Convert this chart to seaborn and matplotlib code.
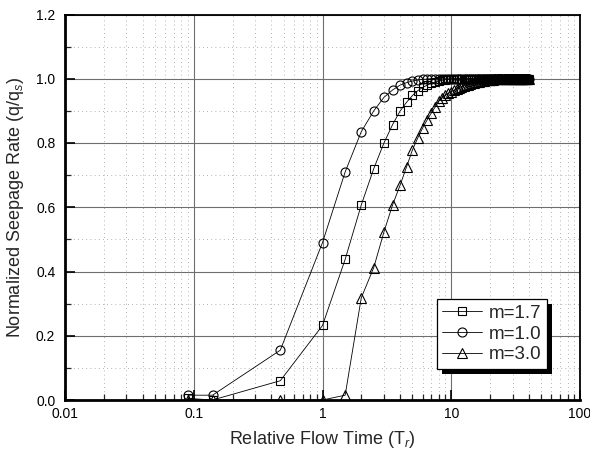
import numpy as np
import pandas as pd
import matplotlib
matplotlib.use("Agg")
import matplotlib.pyplot as plt
import seaborn as sns
from matplotlib.patches import Rectangle
from matplotlib.transforms import IdentityTransform
from matplotlib.ticker import LogLocator, NullFormatter, MultipleLocator

# ---- data ----
time_vals = [0.09, 0.14, 0.47, 1.0, 1.5, 2.0, 2.5, 3.0, 3.5, 4.0, 4.5, 5.0, 5.5,
             6.0, 6.5, 7.0, 7.5, 8.0, 8.5, 9.0, 9.5, 10.0,
             10.5, 11, 11.5, 12, 12.5, 13, 13.5, 14, 14.5, 15, 15.5, 16, 16.5, 17, 17.5,
             18, 18.5, 19, 19.5, 20, 20.5, 21, 21.5, 22, 22.5, 23, 23.5, 24, 24.5, 25,
             25.5, 26, 26.5, 27, 27.5, 28, 28.5, 29, 29.5, 30, 30.5, 31, 31.5, 32, 32.5,
             33, 33.5, 34, 34.5, 35, 35.5, 36, 36.5, 37, 37.5, 38, 38.5, 39, 39.5, 40]

rate_m17 = [0.005, 0.0, 0.06, 0.232, 0.438, 0.607, 0.72, 0.80, 0.857, 0.899, 0.927,
            0.948, 0.963, 0.973, 0.980, 0.986, 0.990, 0.993, 0.995, 0.997, 0.998, 0.999,
            0.999, 1.0, 1.0, 1.0, 1.0, 1.0, 1.0, 1.0, 1.0, 1.0, 1.0, 1.0, 1.0, 1.0, 1.0,
            1.0, 1.0, 1.0, 1.0, 1.0, 1.0, 1.0, 1.0, 1.0, 1.0, 1.0, 1.0, 1.0, 1.0, 1.0,
            1.0, 1.0, 1.0, 1.0, 1.0, 1.0, 1.0, 1.0, 1.0, 1.0, 1.0, 1.0, 1.0, 1.0, 1.0,
            1.0, 1.0, 1.0, 1.0, 1.0, 1.0, 1.0, 1.0, 1.0, 1.0, 1.0, 1.0, 1.0, 1.0, 1.0]

rate_m10 = [0.015, 0.015, 0.155, 0.49, 0.71, 0.835, 0.90, 0.942, 0.965, 0.980, 0.988,
            0.993, 0.996, 0.998, 0.999, 1.0, 1.0, 1.0, 1.0, 1.0, 1.0, 1.0,
            1.0, 1.0, 1.0, 1.0, 1.0, 1.0, 1.0, 1.0, 1.0, 1.0, 1.0, 1.0, 1.0, 1.0, 1.0,
            1.0, 1.0, 1.0, 1.0, 1.0, 1.0, 1.0, 1.0, 1.0, 1.0, 1.0, 1.0, 1.0, 1.0, 1.0,
            1.0, 1.0, 1.0, 1.0, 1.0, 1.0, 1.0, 1.0, 1.0, 1.0, 1.0, 1.0, 1.0, 1.0, 1.0,
            1.0, 1.0, 1.0, 1.0, 1.0, 1.0, 1.0, 1.0, 1.0, 1.0, 1.0, 1.0, 1.0, 1.0, 1.0]

rate_m30 = [0.0, 0.0, 0.0, 0.0, 0.015, 0.318, 0.412, 0.523, 0.607, 0.668, 0.726,
            0.779, 0.816, 0.847, 0.872, 0.893, 0.912, 0.930, 0.940, 0.948, 0.955, 0.960,
            0.964, 0.968, 0.972, 0.975, 0.978, 0.980, 0.982, 0.984, 0.986, 0.988, 0.989,
            0.990, 0.991, 0.992, 0.993, 0.994, 0.995, 0.995, 0.996, 0.996, 0.997, 0.997,
            0.998, 0.998, 0.998, 0.998, 0.999, 0.999, 0.999, 1.0, 1.0, 1.0, 1.0, 1.0,
            1.0, 1.0, 1.0, 1.0, 1.0, 1.0, 1.0, 1.0, 1.0, 1.0, 1.0,
            1.0, 1.0, 1.0, 1.0, 1.0, 1.0, 1.0, 1.0, 1.0, 1.0, 1.0, 1.0, 1.0, 1.0, 1.0]

series_labels = ["m=1.7", "m=1.0", "m=3.0"]
x_ticks = [0.01, 0.1, 1, 10, 100]
x_tick_labels = ["0.01", "0.1", "1", "10", "100"]
y_ticks = [0.0, 0.2, 0.4, 0.6, 0.8, 1.0, 1.2]
y_tick_labels = ["0.0", "0.2", "0.4", "0.6", "0.8", "1.0", "1.2"]

# ---- style ----
sns.set_style("white")
plt.rcParams["font.family"] = ["Liberation Sans", "DejaVu Sans"]
plt.rcParams["mathtext.fontset"] = "custom"
plt.rcParams["mathtext.rm"] = "Liberation Sans"
plt.rcParams["mathtext.it"] = "Liberation Sans:italic"

fig = plt.figure(figsize=(5.9, 4.57), dpi=100)
ax = fig.add_axes([65 / 590, 1 - 400 / 457, 515 / 590, 385.5 / 457])

df = pd.DataFrame({"t": time_vals, "m17": rate_m17, "m10": rate_m10, "m30": rate_m30})

common = dict(color="black", linewidth=0.6, markerfacecolor="none",
              markeredgecolor="black", markeredgewidth=0.8, zorder=3)
sns.lineplot(data=df, x="t", y="m17", marker="s", markersize=5.5, ax=ax,
             label=series_labels[0], sort=False, **common)
sns.lineplot(data=df, x="t", y="m10", marker="o", markersize=6.5, ax=ax,
             label=series_labels[1], sort=False, **common)
sns.lineplot(data=df, x="t", y="m30", marker="^", markersize=6.5, ax=ax,
             label=series_labels[2], sort=False, **common)

ax.set_xscale("log")
ax.set_xlim(0.01, 100)
ax.set_ylim(0.0, 1.2)
ax.set_xticks(x_ticks)
ax.set_xticklabels(x_tick_labels)
ax.xaxis.set_minor_locator(LogLocator(base=10, subs=np.arange(2, 10), numticks=20))
ax.xaxis.set_minor_formatter(NullFormatter())
ax.set_yticks(y_ticks)
ax.set_yticklabels(y_tick_labels)
ax.yaxis.set_minor_locator(MultipleLocator(0.1))

ax.grid(True, which="major", color="#6e6e6e", linewidth=0.8, linestyle="-", zorder=1)
ax.grid(True, which="minor", color="#9a9a9a", linewidth=0.6, linestyle=(0, (1, 4)), zorder=1)
ax.set_axisbelow(True)

ax.tick_params(axis="both", which="major", direction="in", length=7, width=1.2,
               labelsize=10, colors="black", pad=5, bottom=True, left=True)
ax.tick_params(axis="both", which="minor", direction="in", length=4, width=0.9,
               bottom=True, left=True)
ax.tick_params(axis="y", which="major", pad=7)

for side in ["top", "right"]:
    ax.spines[side].set_linewidth(1.3)
    ax.spines[side].set_color("black")
for side in ["left", "bottom"]:
    ax.spines[side].set_linewidth(2.0)
    ax.spines[side].set_color("black")

ax.set_xlabel("Relative Flow Time (T$_r$)", fontsize=13)
ax.set_ylabel("Normalized Seepage Rate (q/q$_s$)", fontsize=13)
ax.xaxis.set_label_coords(0.5, -0.075)
ax.yaxis.set_label_coords(-0.076, 0.5)

leg = ax.legend(loc="upper left", bbox_to_anchor=(0.722, 0.262), borderaxespad=0,
                frameon=True, fancybox=False, framealpha=1, edgecolor="black",
                fontsize=13.5, handlelength=2.1, handletextpad=0.35, labelspacing=0.2,
                borderpad=0.3)
leg.get_frame().set_linewidth(0.9)
leg.set_zorder(6)

fig.canvas.draw()
bb = leg.get_window_extent()
shadow = Rectangle((bb.x0 + 5, bb.y0 - 5), bb.width, bb.height, transform=IdentityTransform(),
                   facecolor="black", edgecolor="none", zorder=5.5, clip_on=False)
ax.add_patch(shadow)

fig.savefig("out.png", dpi=100)
